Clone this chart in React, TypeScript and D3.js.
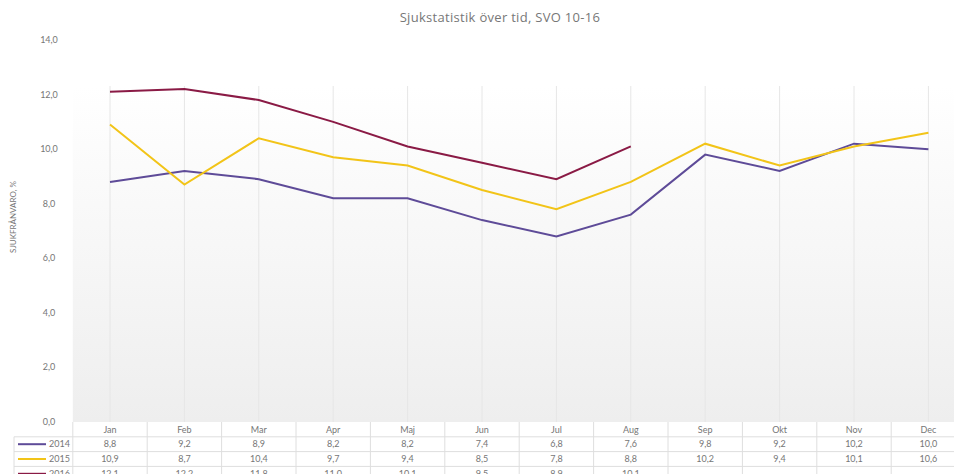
import React, { useEffect, useRef } from "react"
import * as d3 from "d3"

const months = ["Jan", "Feb", "Mar", "Apr", "Maj", "Jun", "Jul", "Aug", "Sep", "Okt", "Nov", "Dec"]
const series2014 = [8.8, 9.2, 8.9, 8.2, 8.2, 7.4, 6.8, 7.6, 9.8, 9.2, 10.2, 10.0]
const series2015 = [10.9, 8.7, 10.4, 9.7, 9.4, 8.5, 7.8, 8.8, 10.2, 9.4, 10.1, 10.6]
const series2016 = [12.1, 12.2, 11.8, 11.0, 10.1, 9.5, 8.9, 10.1]
const seriesNames = ["2014", "2015", "2016"]
const seriesColors = ["#5e4b98", "#f2c418", "#8a1a45"]
const yTicks = [0, 2, 4, 6, 8, 10, 12, 14]

const fmt = (v: number) => v.toFixed(1).replace(".", ",")

const App = () => {
    const ref = useRef<SVGSVGElement>(null)

    useEffect(() => {
        if (!ref.current) return
        const svg = d3.select(ref.current)
        svg.selectAll("*").remove()

        const W = 954
        const H = 474
        const left = 72.8
        const bandW = 74.4
        const yTop = 40
        const yBottom = 422
        const gridTop = 86
        const rowH = 14.8
        const font = "Lato, 'Open Sans', sans-serif"
        const textColor = "#767676"
        const lineColor = "#dedede"

        const x = d3
            .scaleBand<string>()
            .domain(months)
            .range([left, left + bandW * months.length])
        const y = d3.scaleLinear().domain([0, 14]).range([yBottom, yTop])

        const defs = svg.append("defs")
        const grad = defs
            .append("linearGradient")
            .attr("id", "bg")
            .attr("x1", 0)
            .attr("y1", 0)
            .attr("x2", 0)
            .attr("y2", 1)
        grad.append("stop").attr("offset", "0%").attr("stop-color", "#ffffff")
        grad.append("stop").attr("offset", "100%").attr("stop-color", "#eeeeee")

        svg.append("rect").attr("width", W).attr("height", H).attr("fill", "#ffffff")

        // plot background
        svg.append("rect")
            .attr("x", left)
            .attr("y", gridTop)
            .attr("width", bandW * months.length)
            .attr("height", yBottom - gridTop)
            .attr("fill", "url(#bg)")

        // vertical grid lines at category centres
        svg.append("g")
            .selectAll("line")
            .data(months)
            .enter()
            .append("line")
            .attr("x1", (d) => x(d)! + x.bandwidth() / 2)
            .attr("x2", (d) => x(d)! + x.bandwidth() / 2)
            .attr("y1", gridTop)
            .attr("y2", yBottom)
            .attr("stroke", "#e6e6e6")
            .attr("stroke-width", 1)

        // y tick labels
        svg.append("g")
            .selectAll("text")
            .data(yTicks)
            .enter()
            .append("text")
            .attr("x", 49)
            .attr("y", (d) => y(d) + 3)
            .attr("text-anchor", "middle")
            .attr("font-family", font)
            .attr("font-size", "9px")
            .attr("fill", textColor)
            .text((d) => fmt(d))

        // y axis title
        svg.append("text")
            .attr("transform", "translate(16,217) rotate(-90)")
            .attr("text-anchor", "middle")
            .attr("font-family", font)
            .attr("font-size", "8px")
            .attr("fill", textColor)
            .text("SJUKFRÅNVARO, %")

        // title
        svg.append("text")
            .attr("x", 500)
            .attr("y", 22)
            .attr("text-anchor", "middle")
            .attr("font-family", "'Open Sans', sans-serif")
            .attr("font-size", "13px")
            .attr("letter-spacing", "0.3px")
            .attr("fill", "#777777")
            .text("Sjukstatistik över tid, SVO 10-16")

        // lines
        const allSeries = [series2014, series2015, series2016]
        const line = d3
            .line<number>()
            .x((_, i) => x(months[i])! + x.bandwidth() / 2)
            .y((d) => y(d))
        allSeries.forEach((s, i) => {
            svg.append("path")
                .datum(s)
                .attr("d", line)
                .attr("fill", "none")
                .attr("stroke", seriesColors[i])
                .attr("stroke-width", 2)
        })

        // data table
        const table = svg.append("g")
        const tableBottom = yBottom + rowH * 4
        for (let r = 1; r <= 3; r++) {
            table.append("line")
                .attr("x1", 14)
                .attr("x2", W)
                .attr("y1", yBottom + rowH * r)
                .attr("y2", yBottom + rowH * r)
                .attr("stroke", lineColor)
        }
        table.selectAll(".vb")
            .data(months)
            .enter()
            .append("line")
            .attr("x1", (d) => x(d)!)
            .attr("x2", (d) => x(d)!)
            .attr("y1", yBottom)
            .attr("y2", tableBottom)
            .attr("stroke", lineColor)
        table.append("line")
            .attr("x1", 14)
            .attr("x2", 14)
            .attr("y1", yBottom + rowH)
            .attr("y2", tableBottom)
            .attr("stroke", lineColor)

        // month header
        table.selectAll(".mh")
            .data(months)
            .enter()
            .append("text")
            .attr("x", (d) => x(d)! + x.bandwidth() / 2)
            .attr("y", yBottom + 10.5)
            .attr("text-anchor", "middle")
            .attr("font-family", font)
            .attr("font-size", "9px")
            .attr("fill", textColor)
            .text((d) => d)

        allSeries.forEach((s, i) => {
            const rowY = yBottom + rowH * (i + 1)
            table.append("line")
                .attr("x1", 18)
                .attr("x2", 46)
                .attr("y1", rowY + rowH / 2)
                .attr("y2", rowY + rowH / 2)
                .attr("stroke", seriesColors[i])
                .attr("stroke-width", 2)
            table.append("text")
                .attr("x", 70)
                .attr("y", rowY + 10.5)
                .attr("text-anchor", "end")
                .attr("font-family", font)
                .attr("font-size", "9px")
                .attr("fill", textColor)
                .text(seriesNames[i])
            table.selectAll(".v" + i)
                .data(s)
                .enter()
                .append("text")
                .attr("x", (_, j) => x(months[j])! + x.bandwidth() / 2)
                .attr("y", rowY + 10.5)
                .attr("text-anchor", "middle")
                .attr("font-family", font)
                .attr("font-size", "9px")
                .attr("fill", textColor)
                .text((d) => fmt(d))
        })
    }, [])

    return (
        <svg
            ref={ref}
            width={954}
            height={474}
            style={{ position: "absolute", left: 0, top: 0, overflow: "hidden" }}
        />
    )
}

export default App
